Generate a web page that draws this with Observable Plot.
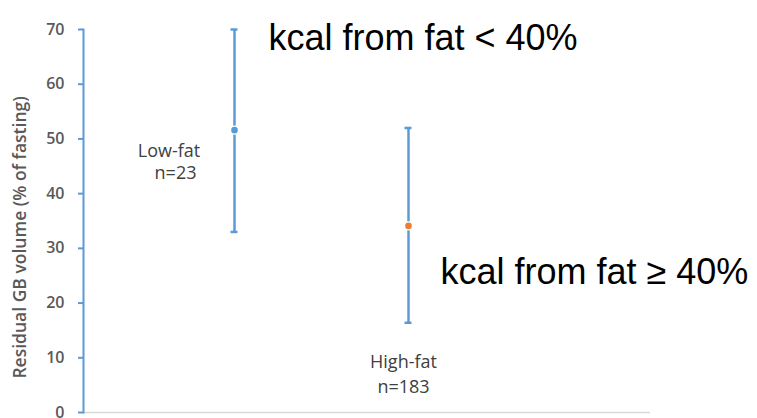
<!DOCTYPE html>
<html>
<head>
<meta charset="utf-8">
<script src="https://cdn.jsdelivr.net/npm/d3@7"></script>
<script src="https://cdn.jsdelivr.net/npm/@observablehq/plot@0.6"></script>
<style>
  html, body { margin: 0; padding: 0; background: #fff; }
</style>
</head>
<body>
<div id="chart"></div>
<script>
// Residual gallbladder volume by diet group: mean with range bars
const groups = ["Low-fat", "High-fat"];
const groupN = [23, 183];
const meanValue = [51.6, 34.1];
const lowValue = [33, 16.4];
const highValue = [70, 52];
const dotColors = ["#5B9BD5", "#ED7D31"];
const yTicks = [0, 10, 20, 30, 40, 50, 60, 70];
const yLabel = "Residual GB volume (% of fasting)";
const notes = ["kcal from fat < 40%", "kcal from fat \u2265 40%"];

const rows = groups.map((g, i) => ({
  group: g,
  n: groupN[i],
  mean: meanValue[i],
  low: lowValue[i],
  high: highValue[i],
  color: dotColors[i]
}));

const blue = "#5B9BD5";
const font = "'Open Sans', sans-serif";
const labelStyle = { fill: "#404040", fontSize: 18, fontWeight: 500 };
const noteStyle = { textAnchor: "start", fill: "#000", fontSize: 36, fontFamily: "'Liberation Sans', Arial, sans-serif" };

// group name and sample size, set beside (low-fat) or below (high-fat) each bar
const groupLabels = (row, {nameY, countY, nameDx, countDx}) => [
  Plot.text([row], { x: "group", y: () => nameY, text: "group", dx: nameDx, ...labelStyle }),
  Plot.text([row], { x: "group", y: () => countY, text: d => `n=${d.n}`, dx: countDx, ...labelStyle })
];

const chart = Plot.plot({
  width: 757,
  height: 418,
  marginLeft: 83,
  marginRight: 107,
  marginTop: 29,
  marginBottom: 6,
  style: { fontFamily: font, background: "#fff", overflow: "visible" },
  x: { type: "point", domain: groups, range: [234, 408], padding: 0, axis: null },
  y: { domain: [0, 70], axis: null },
  marks: [
    Plot.ruleY([0], { stroke: "#D9D9D9", strokeWidth: 1.5 }),
    Plot.axisY({
      ticks: yTicks,
      tickSize: 5,
      tickPadding: 14,
      stroke: blue,
      strokeWidth: 2,
      fill: "#595959",
      fontSize: 16,
      fontWeight: 600,
      tickFormat: d => String(d),
      label: null
    }),
    Plot.frame({ anchor: "left", stroke: blue, strokeWidth: 2 }),
    Plot.text([yLabel], {
      frameAnchor: "left",
      y: () => 32,
      dx: -63,
      rotate: -90,
      textAnchor: "middle",
      fill: "#595959",
      fontSize: 17.5,
      fontWeight: 600
    }),
    // range bars with caps
    Plot.ruleX(rows, { x: "group", y1: "low", y2: "high", stroke: blue, strokeWidth: 2.5 }),
    Plot.ruleY(rows, { x1: "group", x2: "group", y: "high", stroke: blue, strokeWidth: 2.5, insetLeft: -3.5, insetRight: -3.5 }),
    Plot.ruleY(rows, { x1: "group", x2: "group", y: "low", stroke: blue, strokeWidth: 2.5, insetLeft: -3.5, insetRight: -3.5 }),
    // mean points with a white halo
    Plot.dot(rows, { x: "group", y: "mean", r: 4, fill: d => d.color, stroke: "#fff", strokeWidth: 1.4 }),
    ...groupLabels(rows[0], { nameY: 47.8, countY: 43.7, nameDx: -65.5, countDx: -59 }),
    ...groupLabels(rows[1], { nameY: 9.2, countY: 4.6, nameDx: -5, countDx: -5 }),
    // diet threshold notes
    Plot.text([notes[0]], { x: () => groups[0], frameAnchor: "top", dy: -5, dx: 34, ...noteStyle }),
    Plot.text([notes[1]], { x: () => groups[1], y: () => 25.6, dx: 32, ...noteStyle })
  ]
});

document.getElementById("chart").appendChild(chart);
</script>
</body>
</html>
